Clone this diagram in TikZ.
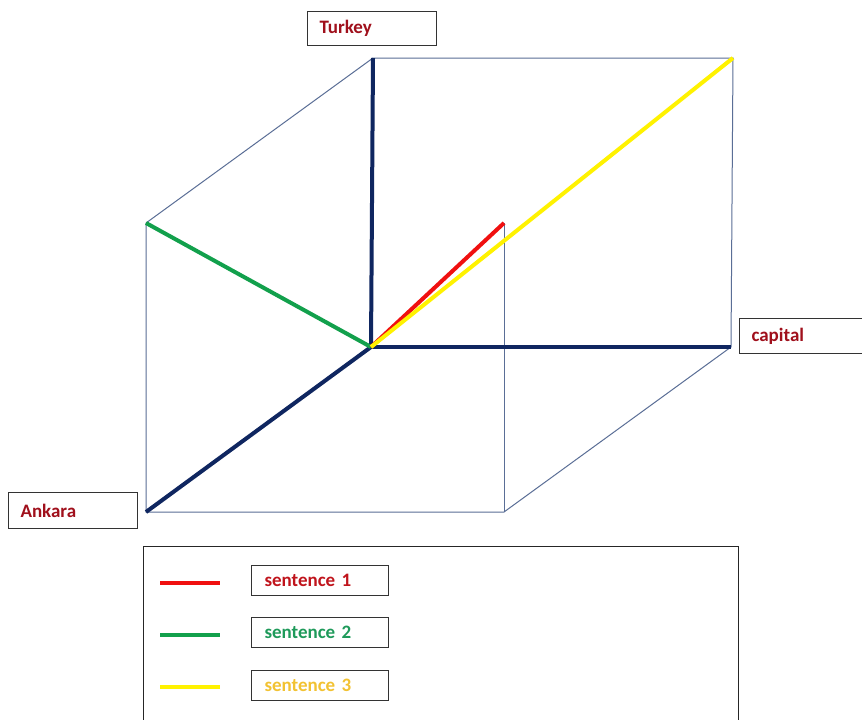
\documentclass[tikz,border=0pt]{standalone}
\usepackage{fontspec}
\setmainfont{Carlito}[BoldFont={Carlito Bold}]
\definecolor{navy}{HTML}{0F2660}
\definecolor{edge}{HTML}{5A6E96}
\definecolor{lblred}{HTML}{A0101C}
\definecolor{sred}{HTML}{F01010}
\definecolor{sgreen}{HTML}{12A04C}
\definecolor{syellow}{HTML}{FFF200}
\definecolor{tred}{HTML}{C0141C}
\definecolor{tgreen}{HTML}{1E9A5A}
\definecolor{tyellow}{HTML}{F2C232}
\begin{document}
\begin{tikzpicture}[x=1pt,y=-1pt,
  thin edge/.style={draw=edge,line width=1pt},
  axis/.style={draw=navy,line width=4pt},
  lbl/.style={draw=black!80,line width=1pt,fill=white,font=\fontsize{19}{22}\selectfont\bfseries,text=lblred,anchor=north west,inner ysep=0pt,inner xsep=12pt,align=left},
  leg/.style={line width=4.5pt},
]
\useasboundingbox (0,0) rectangle (862,720);
\fill[white] (0,0) rectangle (862,720);
% cube vertices
\coordinate (O) at (371,347);
\coordinate (T) at (373,58);
\coordinate (TR) at (733,58);
\coordinate (C) at (731,347);
\coordinate (FL) at (146,223);
\coordinate (A) at (146,512);
\coordinate (BR) at (504,512);
\coordinate (FR) at (504,223);
% thin edges
\draw[thin edge] (FL) -- (T) -- (TR) -- (C) -- (BR) -- (A) -- (FL);
\draw[thin edge] (FR) -- (BR);
% axes
\draw[axis] (O) -- (T);
\draw[axis] (O) -- (C);
\draw[axis] (O) -- (A);
% sentences
\draw[sgreen,line width=4pt] (FL) -- (O);
\draw[sred,line width=4pt] (O) -- (FR);
\draw[syellow,line width=4pt] (O) -- (TR);
% labels
\node[lbl,minimum height=34pt,text width=105pt] (turkey) at (307,11) {Turkey};
\node[lbl,minimum height=36pt,text width=105pt] (ankara) at (8,492) {Ankara};
\node[lbl,minimum height=35pt,text width=99pt] (capital) at (739,318) {capital};
% legend
\draw[black!85,line width=1pt] (143,546) rectangle (738,725);
\coordinate (l1a) at (160,583); \coordinate (l1b) at (220,583);
\coordinate (l2a) at (160,635); \coordinate (l2b) at (220,635);
\coordinate (l3a) at (160,687); \coordinate (l3b) at (220,687);
\draw[leg,sred] (l1a) -- (l1b);
\draw[leg,sgreen] (l2a) -- (l2b);
\draw[leg,syellow] (l3a) -- (l3b);
\node[lbl,text=tred,inner xsep=13pt,minimum height=30pt,text width=111pt] (s1) at (251,565) {sentence 1};
\node[lbl,text=tgreen,inner xsep=13pt,minimum height=30pt,text width=111pt] (s2) at (251,617) {sentence 2};
\node[lbl,text=tyellow,inner xsep=13pt,minimum height=30pt,text width=111pt] (s3) at (251,670) {sentence 3};
\end{tikzpicture}
\end{document}
